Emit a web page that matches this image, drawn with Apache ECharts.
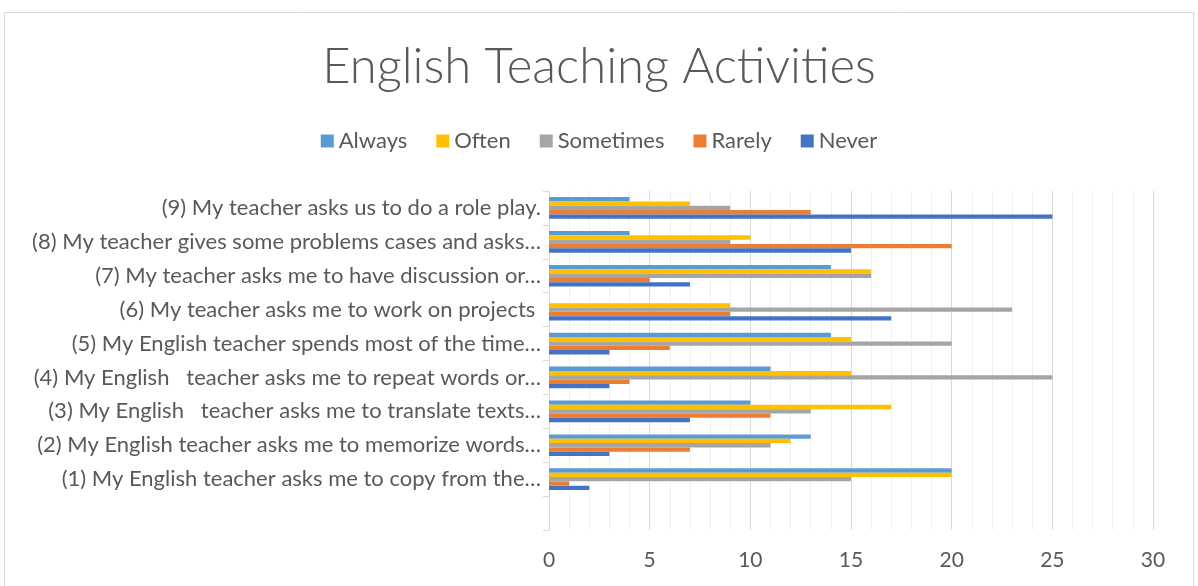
<!DOCTYPE html>
<html>
<head>
  <meta charset="utf-8">
  <title>English Teaching Activities</title>
  <script src="https://cdn.jsdelivr.net/npm/echarts@6/dist/echarts.min.js"></script>
  <style>
    html, body { margin: 0; padding: 0; background: #fff; }
  </style>
</head>
<body>
  <div id="main" style="width: 1198px;height:586px;"></div>
  <script type="text/javascript">
    // categories bottom -> top (empty row at the bottom, as in the sheet)
    var categories = [
      '',
      '(1) My English teacher asks me to copy from the\u2026',
      '(2) My English teacher asks me to memorize words\u2026',
      '(3) My English   teacher asks me to translate texts\u2026',
      '(4) My English   teacher asks me to repeat words or\u2026',
      '(5) My English teacher spends most of the time\u2026',
      '(6) My teacher asks me to work on projects ',
      '(7) My teacher asks me to have discussion or\u2026',
      '(8) My teacher gives some problems cases and asks\u2026',
      '(9) My teacher asks us to do a role play.'
    ];

    var always    = [null, 20, 13, 10, 11, 14, 0, 14, 4, 4];
    var often     = [null, 20, 12, 17, 15, 15, 9, 16, 10, 7];
    var sometimes = [null, 15, 11, 13, 25, 20, 23, 16, 9, 9];
    var rarely    = [null, 1, 7, 11, 4, 6, 9, 5, 20, 13];
    var never     = [null, 2, 3, 7, 3, 3, 17, 7, 15, 25];

    var seriesNames = ['Always', 'Often', 'Sometimes', 'Rarely', 'Never'];
    var seriesData = [always, often, sometimes, rarely, never];
    var colors = ['#5b9bd5', '#ffc000', '#a5a5a5', '#ed7d31', '#4472c4'];

    var font = 'Lato, "Noto Sans", sans-serif';

    var myChart = echarts.init(document.getElementById('main'));

    var option = {
      animation: false,
      color: colors,
      textStyle: { fontFamily: font },
      title: {
        text: 'English Teaching Activities',
        left: 'center',
        top: 38,
        textStyle: {
          fontFamily: font,
          fontSize: 49,
          fontWeight: 300,
          color: '#595959'
        }
      },
      legend: {
        data: seriesNames,
        left: 'center',
        top: 125,
        itemWidth: 13,
        itemHeight: 13,
        itemGap: 29,
        icon: 'rect',
        textStyle: {
          fontFamily: font,
          fontSize: 22,
          color: '#595959',
          padding: [0, 0, 0, 0]
        }
      },
      graphic: [
        {
          type: 'rect',
          shape: { x: 4.5, y: 12.5, width: 1189, height: 600 },
          style: { fill: 'none', stroke: '#d9d9d9', lineWidth: 1 },
          silent: true
        }
      ],
      grid: {
        left: 549,
        right: 45,
        top: 191,
        bottom: 56,
        containLabel: false
      },
      xAxis: {
        type: 'value',
        min: 0,
        max: 30,
        interval: 5,
        axisLine: { show: false },
        axisTick: { show: false },
        axisLabel: {
          fontFamily: font,
          fontSize: 21,
          color: '#595959',
          margin: 20
        },
        splitLine: { lineStyle: { color: '#d9d9d9', width: 1 } },
        minorTick: { show: false, splitNumber: 5 },
        minorSplitLine: { show: true, lineStyle: { color: '#f0f0f0', width: 1 } }
      },
      yAxis: {
        type: 'category',
        data: categories,
        axisLine: { show: true, lineStyle: { color: '#d9d9d9' } },
        axisTick: { show: true, length: 6, lineStyle: { color: '#d9d9d9' } },
        axisLabel: {
          fontFamily: font,
          fontSize: 22,
          color: '#595959',
          margin: 8
        },
        splitLine: { show: false }
      },
      series: seriesNames.map(function (name, i) {
        return {
          name: name,
          type: 'bar',
          data: seriesData[i],
          barGap: '0%',
          barCategoryGap: '36%',
          itemStyle: { color: colors[i] }
        };
      })
    };

    myChart.setOption(option);
  </script>
</body>
</html>
